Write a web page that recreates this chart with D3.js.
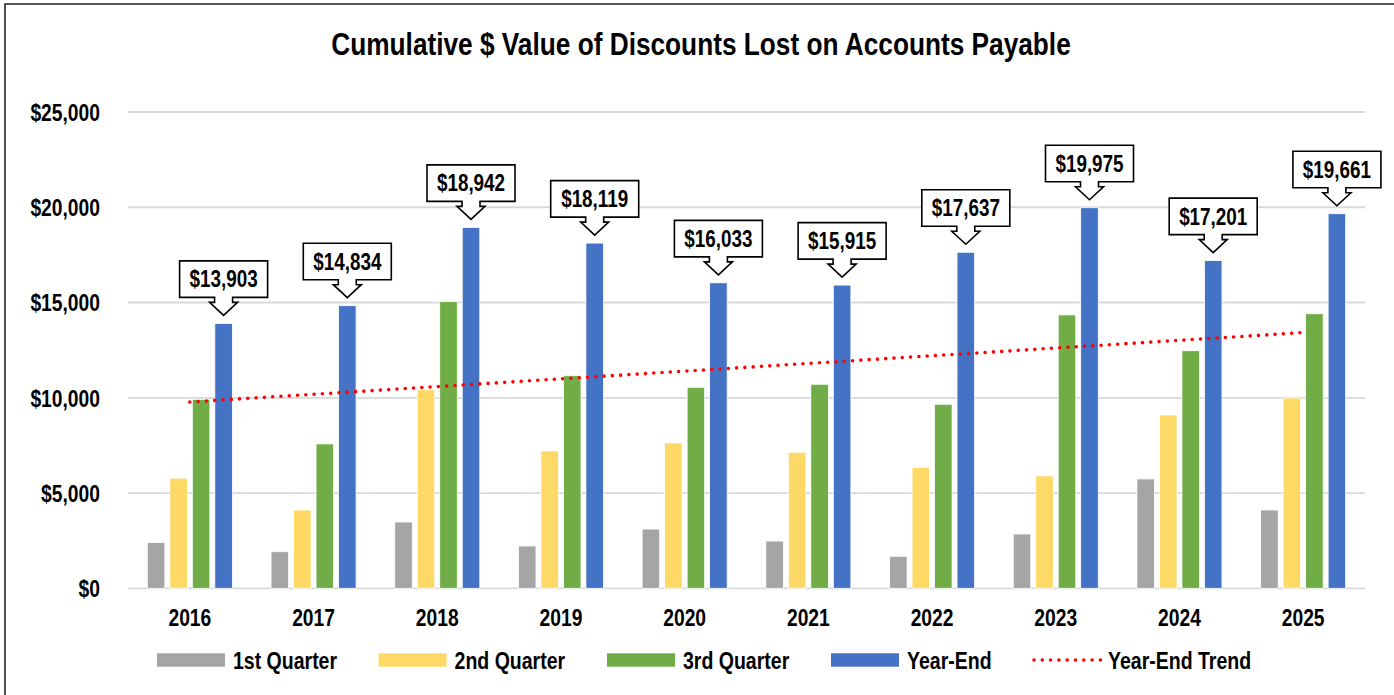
<!DOCTYPE html>
<html>
<head>
<meta charset="utf-8">
<script src="https://cdn.jsdelivr.net/npm/d3@7"></script>
<style>
  body { margin: 0; background: #fff; }
  text { font-family: "Liberation Sans", Arial, sans-serif; font-weight: bold; fill: #000; }
</style>
</head>
<body>
<div id="chart"></div>
<script>
// chart values
var years = ["2016", "2017", "2018", "2019", "2020", "2021", "2022", "2023", "2024", "2025"];
var q1 = [2400, 1920, 3480, 2220, 3110, 2480, 1680, 2850, 5740, 4110];
var q2 = [5780, 4110, 10420, 7210, 7630, 7140, 6350, 5900, 9100, 9990];
var q3 = [9920, 7580, 15050, 11160, 10550, 10710, 9660, 14350, 12470, 14410];
var yearEnd = [13903, 14834, 18942, 18119, 16033, 15915, 17637, 19975, 17201, 19661];
var trendEnds = [9780, 13420]; // trend line value at 2016 and 2025
var seriesNames = ["1st Quarter", "2nd Quarter", "3rd Quarter", "Year-End"];
var seriesColors = ["#a5a5a5", "#ffd966", "#70ad47", "#4472c4"];
var yTicks = [0, 5000, 10000, 15000, 20000, 25000];

// no narrow font installed, so squeeze the normal one sideways
var narrow = 0.82;

function squeeze(sel) {
  sel.each(function() {
    var t = d3.select(this);
    var x = +t.attr("x") || 0,
        y = +t.attr("y") || 0;
    t.attr("x", 0)
     .attr("y", 0)
     .attr("transform", "translate(" + x + "," + y + ") scale(" + narrow + ",1)");
  });
}

function drawChart() {
  var width = 1394,
      height = 695;

  var svg = d3.select("#chart")
              .append("svg")
              .attr("width", width)
              .attr("height", height);

  svg.append("rect")
     .attr("width", width)
     .attr("height", height)
     .attr("fill", "#fff");

  // outer frame (right and bottom are cut off in the picture)
  svg.append("path")
     .attr("d", "M5," + (height + 2) + "V4H" + (width + 2))
     .attr("fill", "none")
     .attr("stroke", "#222")
     .attr("stroke-width", 1.6);

  svg.append("text")
     .attr("x", 701)
     .attr("y", 55)
     .attr("text-anchor", "middle")
     .style("font-size", "32px")
     .text("Cumulative $ Value of Discounts Lost on Accounts Payable")
     .call(squeeze);

  var x0 = d3.scaleBand()
             .domain(years)
             .range([128, 1365]);

  var x1 = d3.scaleBand()
             .domain(seriesNames)
             .range([-45, 45])
             .paddingInner(0.22)
             .paddingOuter(0.11);

  var y = d3.scaleLinear()
            .domain([0, 25000])
            .range([588.3, 112]);

  var money = d3.format(",");

  // gridlines
  svg.append("g")
     .selectAll("line")
     .data(yTicks)
     .enter().append("line")
     .attr("x1", 128)
     .attr("x2", 1365)
     .attr("y1", function(d) { return y(d); })
     .attr("y2", function(d) { return y(d); })
     .attr("stroke", "#d9d9d9")
     .attr("stroke-width", 1.8);

  // y axis labels
  var yAxis = d3.axisLeft(y)
                .tickValues(yTicks)
                .tickSize(0)
                .tickPadding(0)
                .tickFormat(function(d) { return "$" + money(d); });

  var gy = svg.append("g")
              .attr("transform", "translate(100,0)")
              .call(yAxis);
  gy.select(".domain").remove();
  gy.selectAll("text")
    .attr("dy", "0.36em")
    .style("font-size", "23.5px")
    .style("font-family", null)
    .call(squeeze);

  // x axis labels
  var xAxis = d3.axisBottom(x0)
                .tickSize(0)
                .tickPadding(0);

  var gx = svg.append("g")
              .attr("transform", "translate(0,626)")
              .call(xAxis);
  gx.select(".domain").remove();
  gx.selectAll("text")
    .attr("dy", 0)
    .style("font-size", "23.5px")
    .style("font-family", null)
    .call(squeeze);

  // bars
  var allSeries = [q1, q2, q3, yearEnd];
  var barData = [];
  years.forEach(function(yr, i) {
    seriesNames.forEach(function(name, s) {
      barData.push({ year: yr, series: name, color: seriesColors[s], value: allSeries[s][i] });
    });
  });

  svg.append("g")
     .selectAll("rect")
     .data(barData)
     .enter().append("rect")
     .attr("x", function(d) { return x0(d.year) + x0.bandwidth() / 2 + x1(d.series); })
     .attr("width", x1.bandwidth())
     .attr("y", function(d) { return y(d.value); })
     .attr("height", function(d) { return y(0) - y(d.value); })
     .attr("fill", function(d) { return d.color; })
     .attr("stroke", "#fff")
     .attr("stroke-width", 0.8);

  // trend line
  var firstX = x0(years[0]) + x0.bandwidth() / 2;
  var lastX = x0(years[years.length - 1]) + x0.bandwidth() / 2;
  svg.append("line")
     .attr("x1", firstX)
     .attr("y1", y(trendEnds[0]))
     .attr("x2", lastX)
     .attr("y2", y(trendEnds[1]))
     .attr("stroke", "#ff0000")
     .attr("stroke-width", 3.6)
     .attr("stroke-linecap", "round")
     .attr("stroke-dasharray", "0 8.3");

  // callouts above year-end bars
  var boxW = 88, boxH = 36.5, tipGap = 8, headH = 13, stemH = 5, headHalf = 14, stemHalf = 9;
  var callouts = svg.append("g")
                    .selectAll("g")
                    .data(yearEnd)
                    .enter().append("g")
                    .attr("transform", function(d, i) {
                      var cx = x0(years[i]) + x0.bandwidth() / 2 + x1("Year-End") + x1.bandwidth() / 2;
                      return "translate(" + cx + "," + (y(d) - tipGap) + ")";
                    });

  callouts.append("path")
          .attr("d", function() {
            var bb = -(headH + stemH);
            var bt = bb - boxH;
            return "M" + (-boxW / 2) + "," + bt +
                   "H" + (boxW / 2) +
                   "V" + bb +
                   "H" + stemHalf +
                   "V" + (-headH) +
                   "H" + headHalf +
                   "L0,0" +
                   "L" + (-headHalf) + "," + (-headH) +
                   "H" + (-stemHalf) +
                   "V" + bb +
                   "H" + (-boxW / 2) + "Z";
          })
          .attr("fill", "#fff")
          .attr("stroke", "#000")
          .attr("stroke-width", 1.6)
          .attr("stroke-linejoin", "miter");

  callouts.append("text")
          .attr("x", 0)
          .attr("y", -(headH + stemH) - boxH / 2)
          .attr("dy", "0.36em")
          .attr("text-anchor", "middle")
          .style("font-size", "23px")
          .text(function(d) { return "$" + money(d); })
          .call(squeeze);

  // legend
  var legendX = [157, 378.6, 607, 831, 1032];
  var legendY = 660;
  var legendItems = seriesNames.concat(["Year-End Trend"]);
  var lg = svg.append("g")
              .selectAll("g")
              .data(legendItems)
              .enter().append("g")
              .attr("transform", function(d, i) { return "translate(" + legendX[i] + "," + legendY + ")"; });

  lg.each(function(d, i) {
    var g = d3.select(this);
    if (i < 4) {
      g.append("rect")
       .attr("x", 0)
       .attr("y", -6.7)
       .attr("width", 68)
       .attr("height", 13.4)
       .attr("fill", seriesColors[i]);
    } else {
      g.append("line")
       .attr("x1", 2)
       .attr("x2", 70)
       .attr("y1", 0)
       .attr("y2", 0)
       .attr("stroke", "#ff0000")
       .attr("stroke-width", 3.6)
       .attr("stroke-linecap", "round")
       .attr("stroke-dasharray", "0 8.3");
    }
  });

  lg.append("text")
    .attr("x", 76)
    .attr("y", 0)
    .attr("dy", "0.36em")
    .style("font-size", "23.8px")
    .text(function(d) { return d; })
    .call(squeeze);
}

drawChart();
</script>
</body>
</html>
